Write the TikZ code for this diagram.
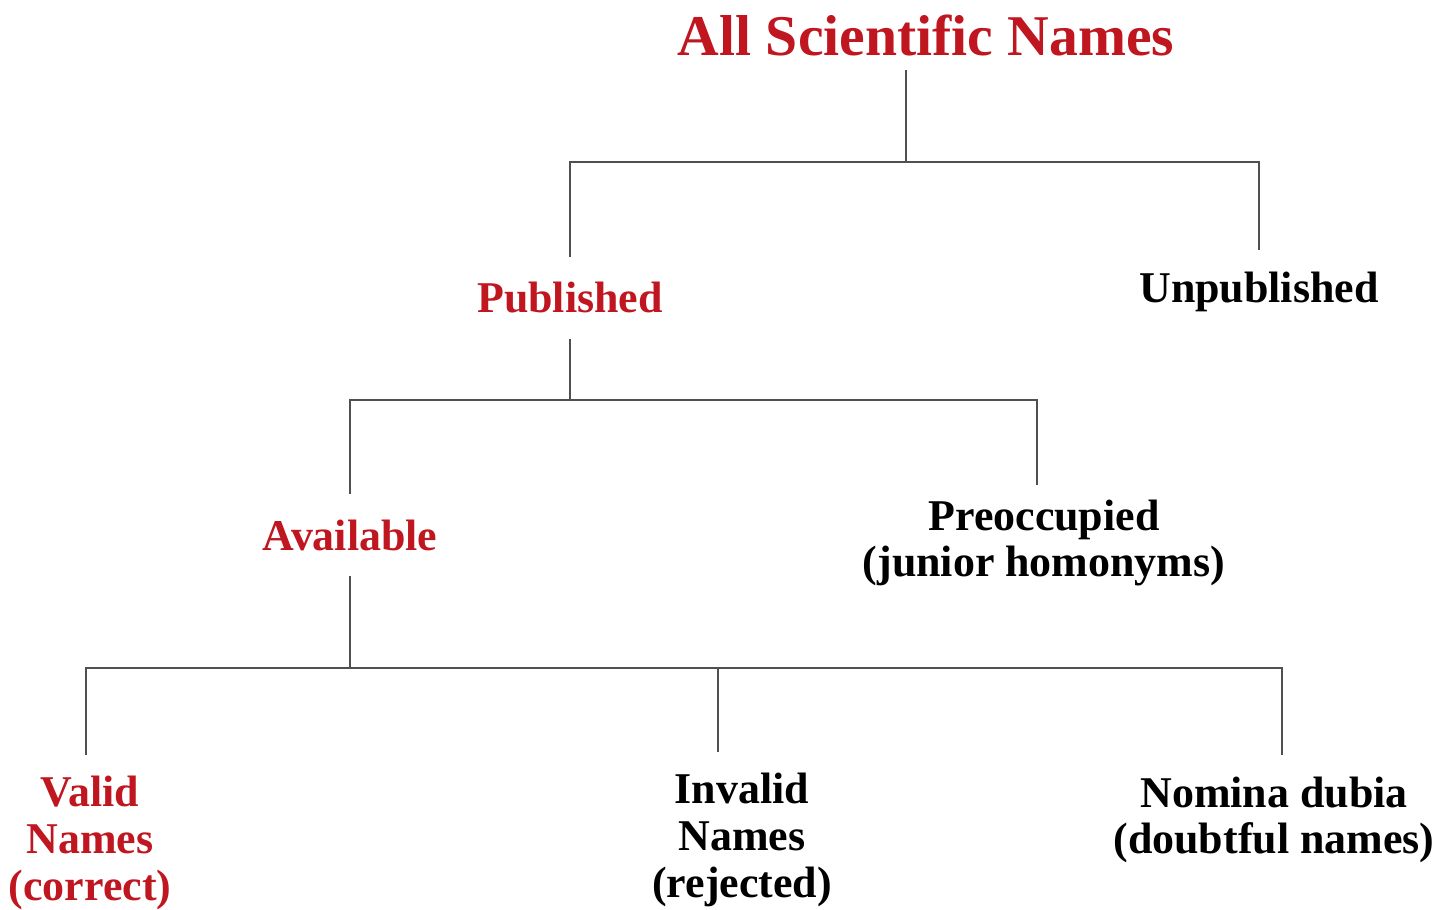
\documentclass[tikz,border=0pt]{standalone}
\usepackage{fontspec}
\setmainfont{Liberation Serif}
\usepackage{xcolor}
\definecolor{namered}{RGB}{192,22,32}
\definecolor{branchgray}{RGB}{80,80,80}
\usetikzlibrary{positioning}

\tikzset{
	namebox/.style = {font=\bfseries\fontsize{12.5}{13.3}\selectfont, align=center, inner xsep=0pt, inner ysep=6pt},
	rednode/.style = {namebox, text=namered},
	branch/.style = {draw=branchgray, line width=0.8pt},
}

\begin{document}
\begin{tikzpicture}
	\useasboundingbox (0,0) rectangle (14.43,-9.10);
	
	% top level
	\node[rednode, font=\bfseries\fontsize{16.4}{18}\selectfont, inner ysep=4pt] (all) at (9.26,-0.35) {All Scientific Names};
	\coordinate (j1) at (9.06,-1.62);
	
	\node[rednode, inner ysep=7pt] (pub) at (5.70,-2.98) {Published};
	\node[namebox] (unpub) at (12.59,-2.92) {Unpublished};
	
	\draw[branch] (j1 |- all.south) -- (j1);
	\draw[branch] (pub.north) |- (j1) -| (unpub.north);
	
	% published names
	\coordinate (j2) at (5.70,-4.00);
	\node[rednode, inner ysep=7pt] (avail) at (3.50,-5.35) {Available};
	\node[namebox, inner ysep=4pt] (preocc) at (10.44,-5.43) {Preoccupied\\(junior homonyms)};
	
	\draw[branch] (pub.south) -- (j2);
	\draw[branch] (avail.north) |- (j2) -| ([xshift=-0.07cm]preocc.north);
	
	% available names
	\coordinate (j3) at (3.50,-6.68);
	\node[rednode] (valid) at (0.90,-8.43) {Valid\\Names\\(correct)};
	\node[namebox] (invalid) at (7.42,-8.40) {Invalid\\Names\\(rejected)};
	\node[namebox] (dubia) at (12.74,-8.20) {Nomina dubia\\(doubtful names)};
	
	\draw[branch] (avail.south) -- (j3);
	\draw[branch] ([xshift=-0.04cm]valid.north) |- (j3) -| ([xshift=0.08cm]dubia.north);
	\draw[branch] ([xshift=-0.24cm]invalid.north) -- ([xshift=-0.24cm]invalid.north |- j3);
	
\end{tikzpicture}
\end{document}
